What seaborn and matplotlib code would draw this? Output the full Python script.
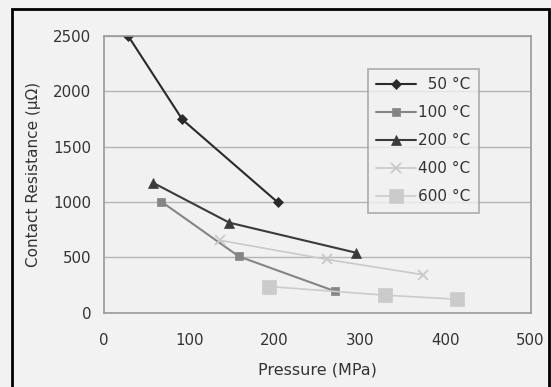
import numpy as np
import pandas as pd
import matplotlib
matplotlib.use("Agg")
import matplotlib.pyplot as plt
import seaborn as sns
from matplotlib.patches import Rectangle

# data
labels = ["  50 °C", "100 °C", "200 °C", "400 °C", "600 °C"]
p_50 = [28.7, 92.1, 204.0]
r_50 = [2500, 1745, 995]
p_100 = [67.4, 158.3, 270.7]
r_100 = [1003, 507, 193]
p_200 = [58.3, 147.2, 295.3]
r_200 = [1171, 812, 541]
p_400 = [136.5, 261.6, 374.4]
r_400 = [652, 480, 341]
p_600 = [193.3, 329.1, 413.5]
r_600 = [235, 157, 120]

pressures = [p_50, p_100, p_200, p_400, p_600]
resist = [r_50, r_100, r_200, r_400, r_600]

colors = ["#2a2a2a", "#858585", "#3a3a3a", "#c9c9c9", "#cbcbcb"]
markers = ["D", "s", "^", "x", "s"]
msizes = [5.5, 5.5, 7, 7, 10]
lwidths = [1.5, 1.5, 1.5, 1.2, 1.2]

sns.set_style("white")
plt.rcParams["font.family"] = ["DejaVu Sans"]

fig = plt.figure(figsize=(5.51, 3.87), dpi=100, facecolor="#f2f2f2")
ax = fig.add_axes([0.1882, 0.1925, 0.7747, 0.7145])
ax.set_facecolor("#f1f1f1")

for lab, xs, ys, c, m, ms, lw in zip(labels, pressures, resist, colors, markers, msizes, lwidths):
    df = pd.DataFrame({"x": xs, "y": ys})
    sns.lineplot(data=df, x="x", y="y", ax=ax, color=c, marker=m, markersize=ms,
                 markeredgecolor=c, markeredgewidth=1.3 if m == "x" else 0.5,
                 linewidth=lw, label=lab, sort=False)

ax.set_xlim(0, 500)
ax.set_ylim(0, 2500)
ax.set_xticks(range(0, 501, 100))
ax.set_yticks(range(0, 2501, 500))
ax.yaxis.grid(True, color="#b5b5b5", linewidth=1)
ax.set_axisbelow(True)
for s in ax.spines.values():
    s.set_color("#9a9a9a")
    s.set_linewidth(1.2)
ax.tick_params(axis="both", direction="out", length=4, color="#9a9a9a",
               labelsize=10.8, labelcolor="#333333", pad=5)
ax.tick_params(axis="x", pad=11)

ax.set_xlabel("Pressure (MPa)", fontsize=11.5, color="#333333", labelpad=10)
ax.set_ylabel("Contact Resistance (μΩ)", fontsize=11, color="#333333", labelpad=9)

leg = ax.legend(loc="upper left", bbox_to_anchor=(0.619, 0.881), fontsize=11,
                frameon=True, fancybox=False, handlelength=2.6, handletextpad=0.15,
                borderpad=0.55, labelspacing=0.85, borderaxespad=0)
leg.get_frame().set_edgecolor("#9a9a9a")
leg.get_frame().set_facecolor("#f1f1f1")
leg.get_frame().set_linewidth(1.2)
for t in leg.get_texts():
    t.set_color("#333333")

# outer black frame (cut at bottom in the reference)
fig.patches.append(Rectangle((11.5 / 551, -0.05), (549 - 11.5) / 551, 1 - 9 / 387 + 0.05,
                             transform=fig.transFigure, fill=False,
                             edgecolor="black", linewidth=2))

fig.savefig("out.png", dpi=100, facecolor=fig.get_facecolor())
